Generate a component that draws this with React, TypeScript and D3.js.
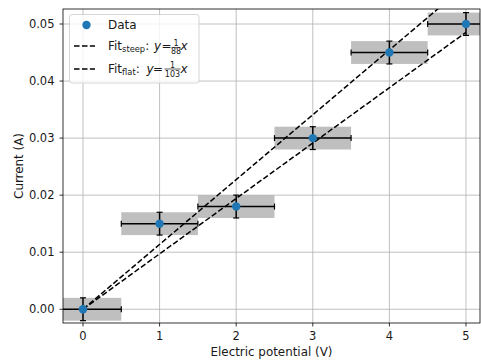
import React from "react";
import * as d3 from "d3";

const xs = [0, 1, 2, 3, 4, 5];
const ys = [0.0, 0.015, 0.018, 0.03, 0.045, 0.05];
const xErr = 0.5;
const yErr = 0.002;
const fitSteepDen = 88;
const fitFlatDen = 103;
const xTicks = [0, 1, 2, 3, 4, 5];
const yTicks = [0.0, 0.01, 0.02, 0.03, 0.04, 0.05];

const W = 481, H = 363;
const L = 63, R = 480, T = 9, B = 323;
const FONT = "DejaVu Sans, sans-serif";
const TXT = "#1a1a1a";

export default function App() {
  const x = d3.scaleLinear().domain([-0.261, 5.183]).range([L, R]);
  const y = d3.scaleLinear().domain([-0.00241, 0.05263]).range([B, T]);
  const line = d3.line<[number, number]>().x(d => x(d[0])).y(d => y(d[1]));
  const steep: [number, number][] = [[0, 0], [5, 5 / fitSteepDen]];
  const flat: [number, number][] = [[0, 0], [5, 5 / fitFlatDen]];
  const grid = "#b0b0b0";
  const cap = 3;
  const dash = "5.55,2.4";
  const LF = 12;

  return (
    <svg width={W} height={H} style={{ position: "absolute", left: 0, top: 0, fontFamily: FONT }}>
      <rect x={0} y={0} width={W} height={H} fill="white" />
      <defs>
        <clipPath id="plot"><rect x={L} y={T} width={R - L} height={B - T} /></clipPath>
      </defs>
      <g clipPath="url(#plot)">
        {xs.map((xi, i) => (
          <rect key={"b" + i} x={x(xi - xErr)} y={y(ys[i] + yErr)} width={x(xi + xErr) - x(xi - xErr)}
            height={y(ys[i] - yErr) - y(ys[i] + yErr)} fill="#bfbfbf" />
        ))}
        {xTicks.map(t => (
          <line key={"gx" + t} x1={x(t)} x2={x(t)} y1={T} y2={B} stroke={grid} strokeWidth={0.8} />
        ))}
        {yTicks.map(t => (
          <line key={"gy" + t} x1={L} x2={R} y1={y(t)} y2={y(t)} stroke={grid} strokeWidth={0.8} />
        ))}
        {xs.map((xi, i) => {
          const cx = x(xi), cy = y(ys[i]);
          const x0 = x(xi - xErr), x1 = x(xi + xErr), y0 = y(ys[i] + yErr), y1 = y(ys[i] - yErr);
          return (
            <g key={"e" + i} stroke="black" strokeWidth={1.5}>
              <line x1={x0} x2={x1} y1={cy} y2={cy} />
              <line x1={cx} x2={cx} y1={y0} y2={y1} />
              <line x1={x0} x2={x0} y1={cy - cap} y2={cy + cap} strokeWidth={1.2} />
              <line x1={x1} x2={x1} y1={cy - cap} y2={cy + cap} strokeWidth={1.2} />
              <line x1={cx - cap} x2={cx + cap} y1={y0} y2={y0} strokeWidth={1.2} />
              <line x1={cx - cap} x2={cx + cap} y1={y1} y2={y1} strokeWidth={1.2} />
            </g>
          );
        })}
        <path d={line(steep)!} fill="none" stroke="black" strokeWidth={1.5} strokeDasharray={dash} />
        <path d={line(flat)!} fill="none" stroke="black" strokeWidth={1.5} strokeDasharray={dash} />
        {xs.map((xi, i) => (
          <circle key={"m" + i} cx={x(xi)} cy={y(ys[i])} r={4.2} fill="#1f77b4" />
        ))}
      </g>
      <rect x={L} y={T} width={R - L} height={B - T} fill="none" stroke="black" strokeWidth={0.8} />
      {xTicks.map(t => (
        <g key={"tx" + t}>
          <line x1={x(t)} x2={x(t)} y1={B} y2={B + 3.5} stroke="black" strokeWidth={0.8} />
          <text x={x(t)} y={340} fontSize={11.5} textAnchor="middle" fill={TXT}>{t}</text>
        </g>
      ))}
      {yTicks.map(t => (
        <g key={"ty" + t}>
          <line x1={L - 3.5} x2={L} y1={y(t)} y2={y(t)} stroke="black" strokeWidth={0.8} />
          <text x={54.5} y={y(t) + 4} fontSize={11.5} textAnchor="end" fill={TXT}>{t.toFixed(2)}</text>
        </g>
      ))}
      <text x={(L + R) / 2} y={356} fontSize={11.9} textAnchor="middle" fill={TXT}>Electric potential (V)</text>
      <text transform={`translate(22.5,${(T + B) / 2}) rotate(-90)`} fontSize={11.9} textAnchor="middle" fill={TXT}>Current (A)</text>

      <g>
        <rect x={69.5} y={14.5} width={129.5} height={68.5} rx={2.5} fill="white" fillOpacity={0.8} stroke="#cccccc" strokeWidth={0.8} />
        <circle cx={86.5} cy={25} r={4.2} fill="#1f77b4" />
        <text x={108} y={29} fontSize={LF} fill={TXT}>Data</text>

        <line x1={74} x2={95} y1={46} y2={46} stroke="black" strokeWidth={1.5} strokeDasharray={dash} />
        <text x={108} y={50} fontSize={LF} fill={TXT}>
          Fit<tspan fontSize={8.3} dy={2}>steep</tspan><tspan dy={-2}>:</tspan>
        </text>
        <text x={154} y={50} fontSize={LF} fontStyle="italic" fill={TXT}>y</text>
        <text x={166.5} y={50} fontSize={LF} textAnchor="middle" fill={TXT}>=</text>
        <text x={176} y={46} fontSize={8} textAnchor="middle" fill={TXT}>1</text>
        <line x1={171.5} x2={180.5} y1={47.6} y2={47.6} stroke={TXT} strokeWidth={0.7} />
        <text x={176} y={54} fontSize={8} textAnchor="middle" fill={TXT}>{fitSteepDen}</text>
        <text x={180.5} y={50} fontSize={LF} fontStyle="italic" fill={TXT}>x</text>

        <line x1={74} x2={95} y1={69} y2={69} stroke="black" strokeWidth={1.5} strokeDasharray={dash} />
        <text x={108} y={72.5} fontSize={LF} fill={TXT}>
          Fit<tspan fontSize={8.3} dy={2}>flat</tspan><tspan dy={-2}>:</tspan>
        </text>
        <text x={146.5} y={72.5} fontSize={LF} fontStyle="italic" fill={TXT}>y</text>
        <text x={158} y={72.5} fontSize={LF} textAnchor="middle" fill={TXT}>=</text>
        <text x={172.5} y={67.5} fontSize={8} textAnchor="middle" fill={TXT}>1</text>
        <line x1={164.5} x2={180.5} y1={69} y2={69} stroke={TXT} strokeWidth={0.7} />
        <text x={172.5} y={76.5} fontSize={8} textAnchor="middle" fill={TXT}>{fitFlatDen}</text>
        <text x={180.5} y={72.5} fontSize={LF} fontStyle="italic" fill={TXT}>x</text>
      </g>
    </svg>
  );
}
